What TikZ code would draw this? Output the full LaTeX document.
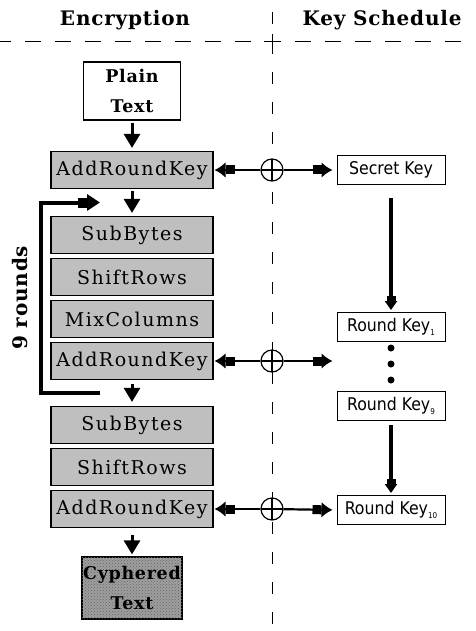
\documentclass[tikz,border=0pt]{standalone}
\usepackage{fontspec}
\setmainfont{DejaVu Serif}
\newfontfamily\stepFam[LetterSpace=8]{DejaVu Serif}
\newfontfamily\headFam[LetterSpace=4]{DejaVu Serif Bold}
\newfontfamily\keyFam{DejaVu Sans Condensed}
\newcommand{\stepFont}{\stepFam\fontsize{19}{22}\selectfont}
\newcommand{\headFont}{\headFam\fontsize{20}{24}\selectfont}
\newcommand{\keyFont}{\keyFam\fontsize{17.5}{20}\selectfont}
\newcommand{\rkSub}[1]{\raisebox{-4pt}{\fontsize{8}{8}\selectfont #1}}
\usetikzlibrary{arrows.meta,calc,patterns}
\tikzset{%
  >={Latex[width=2mm,length=2mm]},
  base/.style = {rectangle, draw=black, line width=1.2pt, inner sep=0pt,
      text centered},
  stepbox/.style = {base, fill=black!25, minimum width=162pt,
      minimum height=37pt, font=\stepFont},
  plainbox/.style = {base, fill=white, minimum width=97pt, minimum height=58pt,
      align=center, font=\headFam\fontsize{17.5}{30}\selectfont},
  cyphbox/.style = {base, fill=black!38, minimum width=100pt, minimum height=62pt,
      align=center, font=\headFam\fontsize{17.5}{30}\selectfont,
      postaction={pattern=crosshatch dots, pattern color=black!60}},
  keybox/.style = {base, line width=1pt, fill=white, minimum width=108pt,
      minimum height=29pt, font=\keyFont},
  xorsym/.style = {circle, draw, line width=1.2pt, fill=white,
      minimum size=22pt, inner sep=0pt,
      path picture={\draw[line width=1.2pt]
        (path picture bounding box.north) -- (path picture bounding box.south)
        (path picture bounding box.west) -- (path picture bounding box.east);}},
  keyarrow/.style = {line width=2.2pt,
      -{Square[length=9pt,width=9pt]Latex[length=11pt,width=16pt]}},
  flowarrow/.style = {line width=3pt, -{Triangle[length=14pt,width=16pt]}},
  schedarrow/.style = {line width=3.5pt,
      -{Square[length=5pt,width=9pt]Triangle[length=9pt,width=12pt]}},
  looparrow/.style = {line width=4pt,
      -{Square[length=9pt,width=10pt]Triangle[length=13pt,width=16pt]}},
  sepline/.style = {line width=1pt},
}

\begin{document}
\begin{tikzpicture}[x=1pt, y=1pt, node distance=42pt]
  \useasboundingbox (0,0) rectangle (475,-631);
  % column separators
  \draw[sepline, dash pattern=on 16pt off 14pt, dash phase=5pt] (0,-42) -- (475,-42);
  \draw[sepline, dash pattern=on 12pt off 18pt, dash phase=18pt] (272,0) -- (272,-631);
  \draw[sepline] (264,-42) -- (280,-42) (272,-34) -- (272,-50);
  % headings
  \node (encHead) [font=\headFont] at (125,-20) {Encryption};
  \node (keyHead) [font=\headFont] at (382,-20) {Key Schedule};
  % encryption column
  \node (plain)  [plainbox] at (132,-91)                {Plain\\Text};
  \node (ark1)   [stepbox, below of=plain, yshift=-37pt] {AddRoundKey};
  \node (sb1)    [stepbox, below of=ark1, yshift=-23pt]  {SubBytes};
  \node (sr1)    [stepbox, below of=sb1]                 {ShiftRows};
  \node (mc1)    [stepbox, below of=sr1]                 {MixColumns};
  \node (ark2)   [stepbox, below of=mc1]                 {AddRoundKey};
  \node (sb2)    [stepbox, below of=ark2, yshift=-22pt]  {SubBytes};
  \node (sr2)    [stepbox, below of=sb2]                 {ShiftRows};
  \node (ark3)   [stepbox, below of=sr2]                 {AddRoundKey};
  \node (cyph)   [cyphbox, below of=ark3, yshift=-37pt]  {Cyphered\\Text};
  % xor points on the separator
  \node (xor1)   [xorsym, right of=ark1, xshift=98pt] {};
  \node (xor2)   [xorsym, right of=ark2, xshift=98pt] {};
  \node (xor3)   [xorsym, right of=ark3, xshift=98pt] {};
  % key schedule column
  \node (secret) [keybox, right of=xor1, xshift=77pt]     {Secret Key};
  \node (rk1)    [keybox, below of=secret, yshift=-115pt] {Round Key\rkSub{1}};
  \node (rk9)    [keybox, below of=rk1, yshift=-37pt]     {Round Key\rkSub{9}};
  \node (rk10)   [keybox, below of=rk9, yshift=-62pt]     {Round Key\rkSub{10}};
  \coordinate (rkGap) at (rk1.west |- xor2);
  % loop of the nine rounds
  \coordinate (loopIn)  at ($(ark1.south)!0.5!(sb1.north)+(-32,0)$);
  \coordinate (loopOut) at ($(ark2.south)!0.5!(sb2.north)+(-32,0)$);
  \node (rounds) [font=\headFont, rotate=90]
        at ($(loopIn)!0.5!(loopOut)+(-80,0)$) {9 rounds};

  % connectors
  \draw[flowarrow, shorten <=2pt, shorten >=3pt] (plain) -- (ark1);
  \draw[flowarrow, shorten <=2pt, shorten >=3pt] (ark1) -- (sb1);
  \draw[flowarrow, shorten <=4pt, shorten >=4pt] (ark2) -- (sb2);
  \draw[flowarrow, shorten <=7pt, shorten >=2pt] (ark3) -- (cyph);
  \draw[looparrow] (loopOut) -- ++(-59.5,0) |- (loopIn);
  \foreach \x in {1,2,3}
    \draw[keyarrow, shorten >=1pt] (xor\x) -- (ark\x.east);
  \draw[keyarrow, shorten >=4pt] (xor1) -- (secret.west);
  \draw[keyarrow, shorten >=4pt] (xor2) -- (rkGap);
  \draw[keyarrow, shorten >=4pt] (xor3) -- (rk10.west);
  \draw[schedarrow, shorten <=13pt, shorten >=2pt] (secret) -- (rk1);
  \draw[schedarrow, shorten <=4pt, shorten >=2pt] (rk9) -- (rk10);
  \foreach \d in {6,22,38}
    \fill (rk1.south) ++(0,-\d) circle (3.5pt);
\end{tikzpicture}
\end{document}
